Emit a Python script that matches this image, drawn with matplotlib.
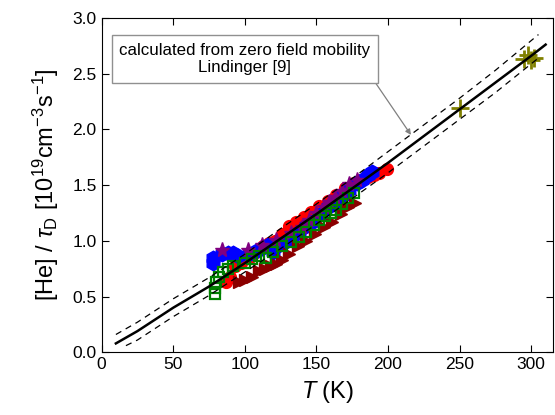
import matplotlib
matplotlib.use("Agg")
import matplotlib.pyplot as plt

plt.rcParams['font.family'] = ['Liberation Sans', 'DejaVu Sans']
plt.rcParams['mathtext.fontset'] = 'custom'
plt.rcParams['mathtext.rm'] = 'Liberation Sans'
plt.rcParams['mathtext.it'] = 'Liberation Sans:italic'

# calculated curve (Lindinger) and its bounds
calc_T = [10, 25, 50, 75, 100, 125, 150, 175, 200, 225, 250, 275, 300, 310]
calc_y = [0.08, 0.19, 0.40, 0.59, 0.80, 1.02, 1.24, 1.47, 1.70, 1.94, 2.18, 2.42, 2.66, 2.76]
upper_T = [10, 25, 50, 75, 100, 125, 150, 175, 200, 225, 250, 275, 305]
upper_y = [0.16, 0.27, 0.48, 0.67, 0.88, 1.11, 1.33, 1.56, 1.80, 2.04, 2.28, 2.53, 2.85]
lower_T = [17, 25, 50, 75, 100, 125, 150, 175, 200, 225, 250, 275, 306]
lower_y = [0.06, 0.11, 0.32, 0.51, 0.72, 0.93, 1.15, 1.38, 1.61, 1.85, 2.09, 2.33, 2.65]

# measured data sets
blue_T = [78, 78, 84, 88, 92, 95, 103, 108, 112, 116, 120, 124, 128, 133, 138, 143, 148, 153, 158, 163, 168, 173, 178, 182, 186, 189]
blue_y = [0.80, 0.85, 0.88, 0.89, 0.89, 0.86, 0.88, 0.91, 0.94, 0.96, 0.90, 0.96, 0.99, 1.03, 1.08, 1.13, 1.18, 1.24, 1.30, 1.35, 1.40, 1.46, 1.52, 1.55, 1.59, 1.62]

red_T = [87, 90, 93, 97, 103, 108, 113, 117, 121, 126, 131, 136, 141, 146, 152, 158, 164, 170, 176, 181, 186, 190, 194, 199]
red_y = [0.63, 0.68, 0.77, 0.80, 0.85, 0.90, 0.95, 0.98, 1.00, 1.06, 1.13, 1.17, 1.21, 1.26, 1.31, 1.36, 1.41, 1.47, 1.52, 1.55, 1.57, 1.59, 1.61, 1.64]

green_T = [79, 79, 80, 82, 85, 88, 92, 100, 105, 110, 115, 120, 126, 132, 138, 143, 148, 152, 156, 160, 164, 168, 172, 176]
green_y = [0.52, 0.58, 0.63, 0.68, 0.72, 0.75, 0.77, 0.80, 0.84, 0.86, 0.85, 0.90, 0.95, 0.99, 1.03, 1.08, 1.14, 1.19, 1.22, 1.25, 1.28, 1.33, 1.38, 1.43]

darkred_T = [96, 100, 105, 110, 114, 118, 122, 126, 131, 137, 143, 149, 155, 161, 167, 172, 177]
darkred_y = [0.63, 0.65, 0.68, 0.73, 0.75, 0.77, 0.79, 0.83, 0.88, 0.95, 1.00, 1.06, 1.12, 1.17, 1.24, 1.30, 1.34]

purple_T = [84, 102, 112, 122, 132, 140, 145, 150, 155, 159, 163, 168, 173, 178]
purple_y = [0.92, 0.92, 0.96, 1.01, 1.07, 1.12, 1.19, 1.25, 1.30, 1.35, 1.39, 1.45, 1.51, 1.55]

olive_T = [250, 295, 298, 300, 302]
olive_y = [2.19, 2.63, 2.67, 2.62, 2.64]

xticks = [0, 50, 100, 150, 200, 250, 300]
yticks = [0.0, 0.5, 1.0, 1.5, 2.0, 2.5, 3.0]

fig = plt.figure(figsize=(5.55, 4.15), dpi=100)
ax = fig.add_axes([0.183, 0.151, 0.813, 0.806])

ax.plot(red_T, red_y, 'o', color='#ff0000', ms=8.5, ls='none', zorder=2)
ax.plot(blue_T, blue_y, 'h', color='#0000ff', ms=10.5, ls='none', zorder=3)
ax.plot(purple_T, purple_y, '*', color='#800080', ms=11, ls='none', zorder=3)
ax.plot(darkred_T, darkred_y, '>', color='#8b0000', ms=8.5, ls='none', zorder=3)
ax.plot(green_T, green_y, 's', mfc='none', mec='#008000', mew=1.6, ms=7.5, ls='none', zorder=4)
ax.plot(olive_T, olive_y, '+', color='#808000', ms=13, mew=2, ls='none', zorder=4)

ax.plot(calc_T, calc_y, '-', color='black', lw=1.8, zorder=5)
ax.plot(upper_T, upper_y, '--', color='black', lw=0.9, dashes=(5, 4), zorder=5)
ax.plot(lower_T, lower_y, '--', color='black', lw=0.9, dashes=(5, 4), zorder=5)

ax.annotate("calculated from zero field mobility\nLindinger [9]",
            xy=(216, 1.95), xytext=(100, 2.63), textcoords='data',
            ha='center', va='center', multialignment='center', fontsize=12.2,
            bbox=dict(boxstyle='square,pad=0.45', fc='white', ec='#909090', lw=1),
            arrowprops=dict(arrowstyle='-|>', color='#808080', lw=0.9,
                            relpos=(1.0, 0.0), mutation_scale=8, shrinkA=0, shrinkB=0),
            zorder=6)

ax.set_xlim(0, 315)
ax.set_ylim(0, 3.0)
ax.set_xticks(xticks)
ax.set_yticks(yticks)
ax.set_yticklabels([f"{v:.1f}" for v in yticks])
ax.tick_params(direction='in', top=True, right=True, length=5, labelsize=12.5)
ax.set_xlabel("$T$ (K)", fontsize=17, labelpad=5)
ax.set_ylabel(r"[He] / $\tau_\mathrm{D}$ [10$^{19}$cm$^{-3}$s$^{-1}$]", fontsize=17, labelpad=8)

fig.savefig("out.png", dpi=100)
